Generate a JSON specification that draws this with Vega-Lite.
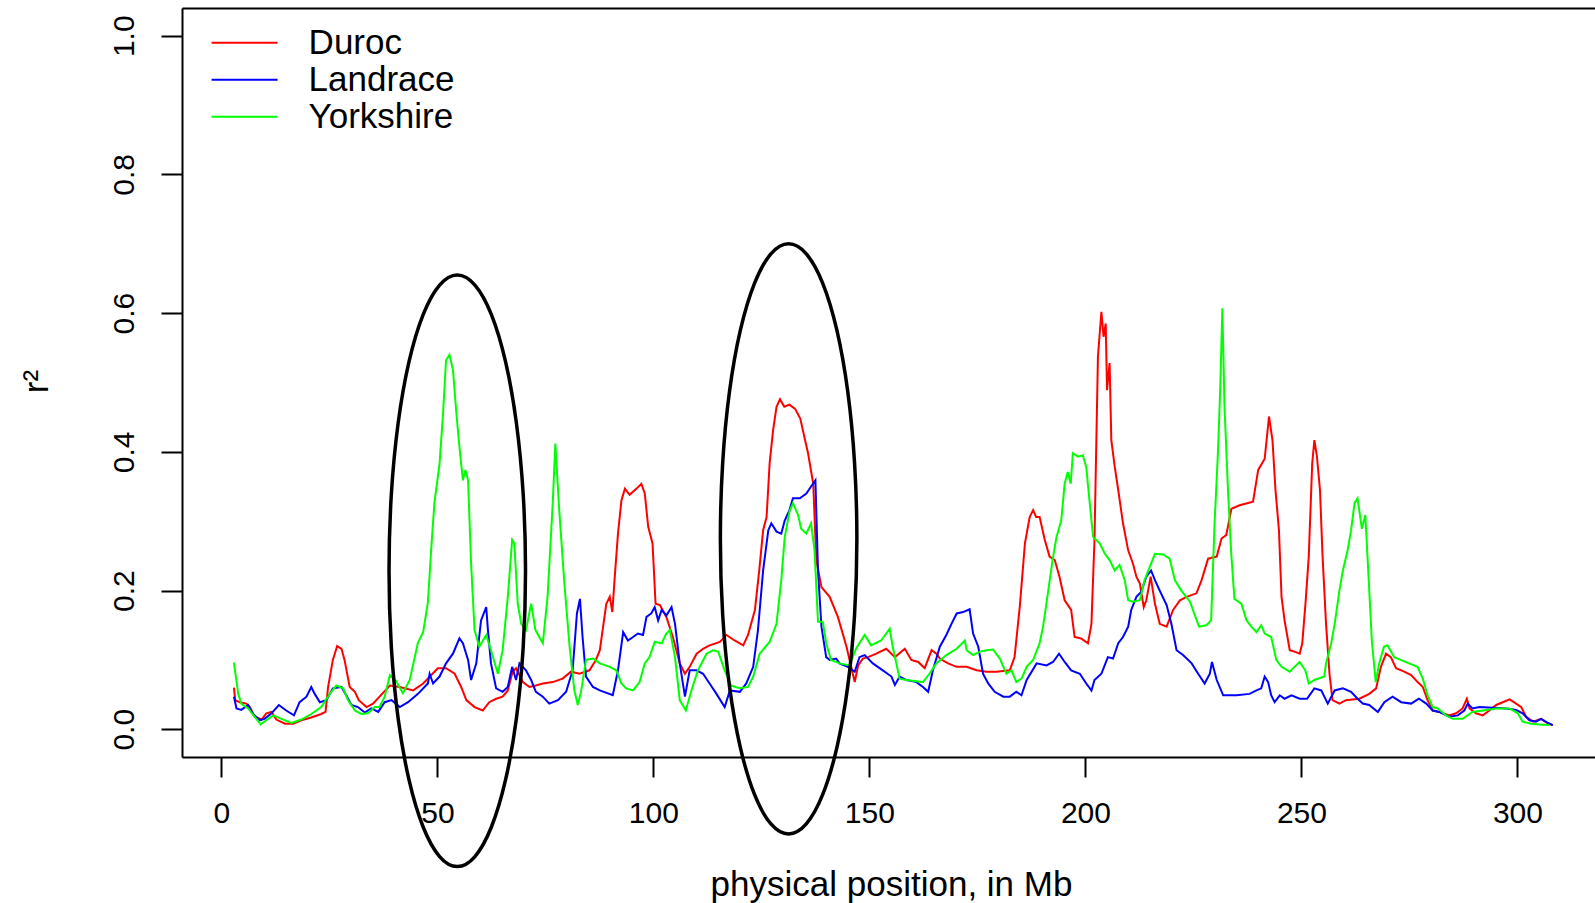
{
"$schema":"https://vega.github.io/schema/vega-lite/v6.json",
"width":1413,"height":749,
"autosize":{"type":"none"},
"padding":{"left":182,"top":8,"right":0,"bottom":146},
"background":"white",
"config":{"view":{"stroke":null},"font":"Liberation Sans","axis":{"grid":false,"labelColor":"black","titleColor":"black","tickColor":"black","domainColor":"black","labelFont":"Liberation Sans","titleFont":"Liberation Sans","titleFontWeight":"normal"}},
"datasets":{
"ld":[
{"breed":"Duroc","pos":2.9,"r2":0.060},{"breed":"Duroc","pos":3.2,"r2":0.042},{"breed":"Duroc","pos":4.2,"r2":0.039},{"breed":"Duroc","pos":5.8,"r2":0.037},{"breed":"Duroc","pos":6.6,"r2":0.032},{"breed":"Duroc","pos":7.7,"r2":0.018},{"breed":"Duroc","pos":9.3,"r2":0.014},{"breed":"Duroc","pos":10.4,"r2":0.023},{"breed":"Duroc","pos":11.6,"r2":0.025},{"breed":"Duroc","pos":12.7,"r2":0.014},{"breed":"Duroc","pos":14.7,"r2":0.008},{"breed":"Duroc","pos":16.6,"r2":0.008},{"breed":"Duroc","pos":18.5,"r2":0.013},{"breed":"Duroc","pos":20.8,"r2":0.017},{"breed":"Duroc","pos":23.1,"r2":0.022},{"breed":"Duroc","pos":24.1,"r2":0.025},{"breed":"Duroc","pos":24.7,"r2":0.061},{"breed":"Duroc","pos":25.8,"r2":0.100},{"breed":"Duroc","pos":26.8,"r2":0.120},{"breed":"Duroc","pos":27.8,"r2":0.116},{"breed":"Duroc","pos":28.5,"r2":0.100},{"breed":"Duroc","pos":29.7,"r2":0.061},{"breed":"Duroc","pos":30.9,"r2":0.054},{"breed":"Duroc","pos":31.8,"r2":0.042},{"breed":"Duroc","pos":33.6,"r2":0.032},{"breed":"Duroc","pos":35.1,"r2":0.037},{"breed":"Duroc","pos":36.6,"r2":0.047},{"breed":"Duroc","pos":39.0,"r2":0.063},{"breed":"Duroc","pos":41.3,"r2":0.061},{"breed":"Duroc","pos":44.4,"r2":0.056},{"breed":"Duroc","pos":46.7,"r2":0.066},{"breed":"Duroc","pos":50.1,"r2":0.088},{"breed":"Duroc","pos":52.0,"r2":0.088},{"breed":"Duroc","pos":54.0,"r2":0.080},{"breed":"Duroc","pos":55.5,"r2":0.061},{"breed":"Duroc","pos":56.7,"r2":0.042},{"breed":"Duroc","pos":58.6,"r2":0.032},{"breed":"Duroc","pos":60.5,"r2":0.027},{"breed":"Duroc","pos":62.0,"r2":0.039},{"breed":"Duroc","pos":63.6,"r2":0.044},{"breed":"Duroc","pos":65.1,"r2":0.047},{"breed":"Duroc","pos":66.3,"r2":0.056},{"breed":"Duroc","pos":67.4,"r2":0.083},{"breed":"Duroc","pos":68.2,"r2":0.088},{"breed":"Duroc","pos":69.8,"r2":0.068},{"breed":"Duroc","pos":71.3,"r2":0.061},{"breed":"Duroc","pos":72.8,"r2":0.063},{"breed":"Duroc","pos":74.4,"r2":0.066},{"breed":"Duroc","pos":76.7,"r2":0.068},{"breed":"Duroc","pos":79.0,"r2":0.073},{"breed":"Duroc","pos":80.9,"r2":0.083},{"breed":"Duroc","pos":82.9,"r2":0.080},{"breed":"Duroc","pos":85.2,"r2":0.085},{"breed":"Duroc","pos":86.7,"r2":0.100},{"breed":"Duroc","pos":87.6,"r2":0.114},{"breed":"Duroc","pos":89.1,"r2":0.181},{"breed":"Duroc","pos":89.9,"r2":0.191},{"breed":"Duroc","pos":90.5,"r2":0.169},{"breed":"Duroc","pos":91.0,"r2":0.215},{"breed":"Duroc","pos":91.8,"r2":0.282},{"breed":"Duroc","pos":92.6,"r2":0.330},{"breed":"Duroc","pos":93.4,"r2":0.347},{"breed":"Duroc","pos":94.5,"r2":0.338},{"breed":"Duroc","pos":96.1,"r2":0.347},{"breed":"Duroc","pos":97.2,"r2":0.354},{"breed":"Duroc","pos":98.0,"r2":0.340},{"breed":"Duroc","pos":98.8,"r2":0.292},{"breed":"Duroc","pos":99.8,"r2":0.268},{"breed":"Duroc","pos":100.5,"r2":0.181},{"breed":"Duroc","pos":101.5,"r2":0.179},{"breed":"Duroc","pos":103.0,"r2":0.162},{"breed":"Duroc","pos":104.5,"r2":0.133},{"breed":"Duroc","pos":106.1,"r2":0.095},{"breed":"Duroc","pos":107.3,"r2":0.080},{"breed":"Duroc","pos":108.4,"r2":0.090},{"breed":"Duroc","pos":110.0,"r2":0.109},{"breed":"Duroc","pos":111.5,"r2":0.116},{"breed":"Duroc","pos":113.0,"r2":0.121},{"breed":"Duroc","pos":115.4,"r2":0.126},{"breed":"Duroc","pos":116.9,"r2":0.136},{"breed":"Duroc","pos":118.8,"r2":0.128},{"breed":"Duroc","pos":120.8,"r2":0.121},{"breed":"Duroc","pos":121.9,"r2":0.136},{"breed":"Duroc","pos":123.5,"r2":0.172},{"breed":"Duroc","pos":124.5,"r2":0.229},{"breed":"Duroc","pos":125.4,"r2":0.287},{"breed":"Duroc","pos":126.2,"r2":0.306},{"breed":"Duroc","pos":126.9,"r2":0.383},{"breed":"Duroc","pos":127.7,"r2":0.431},{"breed":"Duroc","pos":128.5,"r2":0.465},{"breed":"Duroc","pos":129.3,"r2":0.476},{"breed":"Duroc","pos":130.3,"r2":0.465},{"breed":"Duroc","pos":131.5,"r2":0.468},{"breed":"Duroc","pos":132.8,"r2":0.462},{"breed":"Duroc","pos":134.0,"r2":0.448},{"breed":"Duroc","pos":134.6,"r2":0.431},{"breed":"Duroc","pos":135.8,"r2":0.398},{"breed":"Duroc","pos":137.0,"r2":0.354},{"breed":"Duroc","pos":137.7,"r2":0.244},{"breed":"Duroc","pos":138.9,"r2":0.205},{"breed":"Duroc","pos":140.8,"r2":0.191},{"breed":"Duroc","pos":142.7,"r2":0.162},{"breed":"Duroc","pos":144.7,"r2":0.119},{"breed":"Duroc","pos":146.6,"r2":0.068},{"breed":"Duroc","pos":147.4,"r2":0.092},{"breed":"Duroc","pos":148.5,"r2":0.102},{"breed":"Duroc","pos":149.7,"r2":0.104},{"breed":"Duroc","pos":151.6,"r2":0.109},{"breed":"Duroc","pos":153.9,"r2":0.116},{"breed":"Duroc","pos":155.9,"r2":0.104},{"breed":"Duroc","pos":158.2,"r2":0.116},{"breed":"Duroc","pos":159.7,"r2":0.100},{"breed":"Duroc","pos":161.3,"r2":0.097},{"breed":"Duroc","pos":162.8,"r2":0.088},{"breed":"Duroc","pos":164.4,"r2":0.114},{"breed":"Duroc","pos":165.5,"r2":0.109},{"breed":"Duroc","pos":166.3,"r2":0.102},{"breed":"Duroc","pos":168.2,"r2":0.095},{"breed":"Duroc","pos":170.2,"r2":0.090},{"breed":"Duroc","pos":172.5,"r2":0.090},{"breed":"Duroc","pos":174.8,"r2":0.085},{"breed":"Duroc","pos":177.1,"r2":0.083},{"breed":"Duroc","pos":179.4,"r2":0.083},{"breed":"Duroc","pos":182.5,"r2":0.085},{"breed":"Duroc","pos":183.6,"r2":0.104},{"breed":"Duroc","pos":184.8,"r2":0.176},{"breed":"Duroc","pos":186.0,"r2":0.268},{"breed":"Duroc","pos":187.1,"r2":0.306},{"breed":"Duroc","pos":187.9,"r2":0.316},{"breed":"Duroc","pos":188.6,"r2":0.306},{"breed":"Duroc","pos":189.4,"r2":0.306},{"breed":"Duroc","pos":190.6,"r2":0.273},{"breed":"Duroc","pos":191.7,"r2":0.249},{"breed":"Duroc","pos":192.9,"r2":0.244},{"breed":"Duroc","pos":194.0,"r2":0.220},{"breed":"Duroc","pos":195.2,"r2":0.186},{"breed":"Duroc","pos":196.7,"r2":0.172},{"breed":"Duroc","pos":197.5,"r2":0.133},{"breed":"Duroc","pos":199.0,"r2":0.131},{"breed":"Duroc","pos":200.6,"r2":0.124},{"breed":"Duroc","pos":201.4,"r2":0.152},{"breed":"Duroc","pos":202.1,"r2":0.273},{"breed":"Duroc","pos":202.9,"r2":0.537},{"breed":"Duroc","pos":203.7,"r2":0.602},{"breed":"Duroc","pos":204.2,"r2":0.566},{"breed":"Duroc","pos":204.7,"r2":0.585},{"breed":"Duroc","pos":205.0,"r2":0.489},{"breed":"Duroc","pos":205.6,"r2":0.528},{"breed":"Duroc","pos":206.0,"r2":0.417},{"breed":"Duroc","pos":206.8,"r2":0.378},{"breed":"Duroc","pos":207.6,"r2":0.345},{"breed":"Duroc","pos":208.7,"r2":0.297},{"breed":"Duroc","pos":209.9,"r2":0.258},{"breed":"Duroc","pos":211.0,"r2":0.239},{"breed":"Duroc","pos":211.8,"r2":0.220},{"breed":"Duroc","pos":212.6,"r2":0.210},{"breed":"Duroc","pos":213.5,"r2":0.176},{"breed":"Duroc","pos":214.1,"r2":0.186},{"breed":"Duroc","pos":215.1,"r2":0.220},{"breed":"Duroc","pos":216.1,"r2":0.181},{"breed":"Duroc","pos":217.2,"r2":0.152},{"breed":"Duroc","pos":218.8,"r2":0.148},{"breed":"Duroc","pos":220.3,"r2":0.172},{"breed":"Duroc","pos":221.9,"r2":0.186},{"breed":"Duroc","pos":223.4,"r2":0.191},{"breed":"Duroc","pos":225.7,"r2":0.196},{"breed":"Duroc","pos":226.9,"r2":0.215},{"breed":"Duroc","pos":228.4,"r2":0.246},{"breed":"Duroc","pos":230.4,"r2":0.249},{"breed":"Duroc","pos":231.5,"r2":0.275},{"breed":"Duroc","pos":232.6,"r2":0.280},{"breed":"Duroc","pos":233.8,"r2":0.318},{"breed":"Duroc","pos":235.7,"r2":0.323},{"breed":"Duroc","pos":238.8,"r2":0.328},{"breed":"Duroc","pos":240.0,"r2":0.374},{"breed":"Duroc","pos":241.5,"r2":0.390},{"breed":"Duroc","pos":242.5,"r2":0.451},{"breed":"Duroc","pos":243.3,"r2":0.417},{"breed":"Duroc","pos":244.0,"r2":0.345},{"breed":"Duroc","pos":244.8,"r2":0.287},{"breed":"Duroc","pos":245.4,"r2":0.191},{"breed":"Duroc","pos":246.1,"r2":0.157},{"breed":"Duroc","pos":247.3,"r2":0.114},{"breed":"Duroc","pos":248.4,"r2":0.112},{"breed":"Duroc","pos":249.6,"r2":0.109},{"breed":"Duroc","pos":250.2,"r2":0.124},{"breed":"Duroc","pos":251.0,"r2":0.186},{"breed":"Duroc","pos":251.7,"r2":0.249},{"breed":"Duroc","pos":252.5,"r2":0.383},{"breed":"Duroc","pos":253.0,"r2":0.417},{"breed":"Duroc","pos":253.6,"r2":0.393},{"breed":"Duroc","pos":254.3,"r2":0.345},{"breed":"Duroc","pos":254.9,"r2":0.249},{"breed":"Duroc","pos":255.7,"r2":0.152},{"breed":"Duroc","pos":256.5,"r2":0.080},{"breed":"Duroc","pos":257.2,"r2":0.042},{"breed":"Duroc","pos":258.8,"r2":0.037},{"breed":"Duroc","pos":260.3,"r2":0.042},{"breed":"Duroc","pos":263.4,"r2":0.044},{"breed":"Duroc","pos":265.7,"r2":0.051},{"breed":"Duroc","pos":267.3,"r2":0.059},{"breed":"Duroc","pos":268.4,"r2":0.090},{"breed":"Duroc","pos":269.6,"r2":0.109},{"breed":"Duroc","pos":270.7,"r2":0.104},{"breed":"Duroc","pos":271.9,"r2":0.088},{"breed":"Duroc","pos":273.8,"r2":0.083},{"breed":"Duroc","pos":275.4,"r2":0.078},{"breed":"Duroc","pos":276.9,"r2":0.068},{"breed":"Duroc","pos":278.1,"r2":0.061},{"breed":"Duroc","pos":279.2,"r2":0.042},{"breed":"Duroc","pos":280.4,"r2":0.027},{"breed":"Duroc","pos":281.9,"r2":0.025},{"breed":"Duroc","pos":284.2,"r2":0.020},{"breed":"Duroc","pos":285.8,"r2":0.023},{"breed":"Duroc","pos":287.3,"r2":0.030},{"breed":"Duroc","pos":288.3,"r2":0.044},{"breed":"Duroc","pos":288.9,"r2":0.030},{"breed":"Duroc","pos":290.4,"r2":0.023},{"breed":"Duroc","pos":292.0,"r2":0.020},{"breed":"Duroc","pos":293.5,"r2":0.027},{"breed":"Duroc","pos":295.1,"r2":0.035},{"breed":"Duroc","pos":296.6,"r2":0.039},{"breed":"Duroc","pos":298.2,"r2":0.043},{"breed":"Duroc","pos":299.7,"r2":0.037},{"breed":"Duroc","pos":300.9,"r2":0.032},{"breed":"Duroc","pos":302.0,"r2":0.018},{"breed":"Duroc","pos":303.6,"r2":0.011},{"breed":"Duroc","pos":305.5,"r2":0.015},{"breed":"Duroc","pos":307.1,"r2":0.008},{"breed":"Duroc","pos":308.2,"r2":0.006},
{"breed":"Landrace","pos":2.9,"r2":0.047},{"breed":"Landrace","pos":3.5,"r2":0.030},{"breed":"Landrace","pos":4.6,"r2":0.028},{"breed":"Landrace","pos":6.2,"r2":0.035},{"breed":"Landrace","pos":7.3,"r2":0.022},{"breed":"Landrace","pos":8.9,"r2":0.013},{"breed":"Landrace","pos":10.0,"r2":0.015},{"breed":"Landrace","pos":11.6,"r2":0.023},{"breed":"Landrace","pos":13.3,"r2":0.035},{"breed":"Landrace","pos":15.0,"r2":0.027},{"breed":"Landrace","pos":16.8,"r2":0.020},{"breed":"Landrace","pos":18.1,"r2":0.039},{"breed":"Landrace","pos":19.7,"r2":0.047},{"breed":"Landrace","pos":20.8,"r2":0.061},{"breed":"Landrace","pos":21.6,"r2":0.051},{"breed":"Landrace","pos":22.8,"r2":0.039},{"breed":"Landrace","pos":24.3,"r2":0.042},{"breed":"Landrace","pos":25.8,"r2":0.059},{"breed":"Landrace","pos":27.8,"r2":0.061},{"breed":"Landrace","pos":28.9,"r2":0.049},{"breed":"Landrace","pos":30.1,"r2":0.035},{"breed":"Landrace","pos":31.6,"r2":0.032},{"breed":"Landrace","pos":33.2,"r2":0.024},{"breed":"Landrace","pos":34.7,"r2":0.030},{"breed":"Landrace","pos":36.3,"r2":0.025},{"breed":"Landrace","pos":37.8,"r2":0.039},{"breed":"Landrace","pos":39.4,"r2":0.042},{"breed":"Landrace","pos":41.3,"r2":0.032},{"breed":"Landrace","pos":43.2,"r2":0.039},{"breed":"Landrace","pos":45.5,"r2":0.051},{"breed":"Landrace","pos":47.8,"r2":0.066},{"breed":"Landrace","pos":48.2,"r2":0.080},{"breed":"Landrace","pos":49.0,"r2":0.066},{"breed":"Landrace","pos":50.5,"r2":0.076},{"breed":"Landrace","pos":52.0,"r2":0.095},{"breed":"Landrace","pos":53.6,"r2":0.109},{"breed":"Landrace","pos":55.1,"r2":0.131},{"breed":"Landrace","pos":55.9,"r2":0.124},{"breed":"Landrace","pos":57.1,"r2":0.100},{"breed":"Landrace","pos":57.8,"r2":0.071},{"breed":"Landrace","pos":59.0,"r2":0.095},{"breed":"Landrace","pos":60.1,"r2":0.157},{"breed":"Landrace","pos":61.3,"r2":0.176},{"breed":"Landrace","pos":61.7,"r2":0.143},{"breed":"Landrace","pos":62.4,"r2":0.095},{"breed":"Landrace","pos":63.6,"r2":0.059},{"breed":"Landrace","pos":65.1,"r2":0.054},{"breed":"Landrace","pos":66.3,"r2":0.061},{"breed":"Landrace","pos":67.3,"r2":0.090},{"breed":"Landrace","pos":68.2,"r2":0.071},{"breed":"Landrace","pos":69.0,"r2":0.095},{"breed":"Landrace","pos":70.5,"r2":0.085},{"breed":"Landrace","pos":71.7,"r2":0.071},{"breed":"Landrace","pos":72.8,"r2":0.054},{"breed":"Landrace","pos":74.4,"r2":0.047},{"breed":"Landrace","pos":75.9,"r2":0.037},{"breed":"Landrace","pos":77.9,"r2":0.042},{"breed":"Landrace","pos":79.8,"r2":0.054},{"breed":"Landrace","pos":81.3,"r2":0.085},{"breed":"Landrace","pos":82.3,"r2":0.167},{"breed":"Landrace","pos":83.0,"r2":0.188},{"breed":"Landrace","pos":83.6,"r2":0.133},{"breed":"Landrace","pos":84.4,"r2":0.076},{"breed":"Landrace","pos":86.0,"r2":0.061},{"breed":"Landrace","pos":87.6,"r2":0.056},{"breed":"Landrace","pos":90.6,"r2":0.049},{"breed":"Landrace","pos":91.8,"r2":0.085},{"breed":"Landrace","pos":93.0,"r2":0.140},{"breed":"Landrace","pos":94.1,"r2":0.128},{"breed":"Landrace","pos":95.3,"r2":0.133},{"breed":"Landrace","pos":96.4,"r2":0.138},{"breed":"Landrace","pos":97.6,"r2":0.136},{"breed":"Landrace","pos":98.4,"r2":0.162},{"breed":"Landrace","pos":99.5,"r2":0.167},{"breed":"Landrace","pos":100.3,"r2":0.176},{"breed":"Landrace","pos":101.1,"r2":0.157},{"breed":"Landrace","pos":101.9,"r2":0.172},{"breed":"Landrace","pos":103.0,"r2":0.164},{"breed":"Landrace","pos":104.2,"r2":0.176},{"breed":"Landrace","pos":105.0,"r2":0.152},{"breed":"Landrace","pos":106.1,"r2":0.095},{"breed":"Landrace","pos":107.3,"r2":0.047},{"breed":"Landrace","pos":108.4,"r2":0.085},{"breed":"Landrace","pos":110.0,"r2":0.085},{"breed":"Landrace","pos":111.5,"r2":0.080},{"breed":"Landrace","pos":113.0,"r2":0.066},{"breed":"Landrace","pos":114.6,"r2":0.051},{"breed":"Landrace","pos":116.5,"r2":0.032},{"breed":"Landrace","pos":117.7,"r2":0.056},{"breed":"Landrace","pos":120.0,"r2":0.054},{"breed":"Landrace","pos":121.5,"r2":0.066},{"breed":"Landrace","pos":123.1,"r2":0.090},{"breed":"Landrace","pos":124.2,"r2":0.143},{"breed":"Landrace","pos":125.4,"r2":0.229},{"breed":"Landrace","pos":126.6,"r2":0.287},{"breed":"Landrace","pos":127.3,"r2":0.297},{"breed":"Landrace","pos":128.5,"r2":0.285},{"breed":"Landrace","pos":129.6,"r2":0.282},{"breed":"Landrace","pos":130.4,"r2":0.301},{"breed":"Landrace","pos":131.5,"r2":0.316},{"breed":"Landrace","pos":132.3,"r2":0.333},{"breed":"Landrace","pos":133.9,"r2":0.333},{"breed":"Landrace","pos":135.4,"r2":0.340},{"breed":"Landrace","pos":136.5,"r2":0.350},{"breed":"Landrace","pos":137.5,"r2":0.359},{"breed":"Landrace","pos":138.1,"r2":0.229},{"breed":"Landrace","pos":138.9,"r2":0.148},{"breed":"Landrace","pos":140.0,"r2":0.104},{"breed":"Landrace","pos":140.8,"r2":0.100},{"breed":"Landrace","pos":142.3,"r2":0.102},{"breed":"Landrace","pos":143.1,"r2":0.095},{"breed":"Landrace","pos":145.0,"r2":0.090},{"breed":"Landrace","pos":146.6,"r2":0.083},{"breed":"Landrace","pos":147.7,"r2":0.104},{"breed":"Landrace","pos":148.9,"r2":0.107},{"breed":"Landrace","pos":150.8,"r2":0.095},{"breed":"Landrace","pos":153.1,"r2":0.085},{"breed":"Landrace","pos":155.1,"r2":0.076},{"breed":"Landrace","pos":155.9,"r2":0.064},{"breed":"Landrace","pos":157.0,"r2":0.076},{"breed":"Landrace","pos":158.6,"r2":0.071},{"breed":"Landrace","pos":160.9,"r2":0.068},{"breed":"Landrace","pos":162.4,"r2":0.061},{"breed":"Landrace","pos":163.6,"r2":0.054},{"breed":"Landrace","pos":164.7,"r2":0.085},{"breed":"Landrace","pos":166.3,"r2":0.119},{"breed":"Landrace","pos":167.8,"r2":0.136},{"breed":"Landrace","pos":169.0,"r2":0.152},{"breed":"Landrace","pos":170.2,"r2":0.167},{"breed":"Landrace","pos":171.7,"r2":0.169},{"breed":"Landrace","pos":173.2,"r2":0.173},{"breed":"Landrace","pos":174.0,"r2":0.138},{"breed":"Landrace","pos":175.2,"r2":0.119},{"breed":"Landrace","pos":176.3,"r2":0.080},{"breed":"Landrace","pos":177.5,"r2":0.066},{"breed":"Landrace","pos":179.0,"r2":0.054},{"breed":"Landrace","pos":181.0,"r2":0.047},{"breed":"Landrace","pos":182.5,"r2":0.047},{"breed":"Landrace","pos":184.0,"r2":0.054},{"breed":"Landrace","pos":185.2,"r2":0.049},{"breed":"Landrace","pos":186.4,"r2":0.071},{"breed":"Landrace","pos":188.7,"r2":0.095},{"breed":"Landrace","pos":191.0,"r2":0.092},{"breed":"Landrace","pos":192.5,"r2":0.097},{"breed":"Landrace","pos":193.9,"r2":0.109},{"breed":"Landrace","pos":195.2,"r2":0.097},{"breed":"Landrace","pos":196.7,"r2":0.085},{"breed":"Landrace","pos":198.7,"r2":0.080},{"breed":"Landrace","pos":200.2,"r2":0.066},{"breed":"Landrace","pos":201.4,"r2":0.056},{"breed":"Landrace","pos":202.1,"r2":0.071},{"breed":"Landrace","pos":203.7,"r2":0.080},{"breed":"Landrace","pos":205.2,"r2":0.104},{"breed":"Landrace","pos":206.4,"r2":0.102},{"breed":"Landrace","pos":207.6,"r2":0.124},{"breed":"Landrace","pos":208.7,"r2":0.133},{"breed":"Landrace","pos":209.9,"r2":0.148},{"breed":"Landrace","pos":210.6,"r2":0.172},{"breed":"Landrace","pos":211.8,"r2":0.191},{"breed":"Landrace","pos":212.9,"r2":0.198},{"breed":"Landrace","pos":214.1,"r2":0.220},{"breed":"Landrace","pos":215.2,"r2":0.229},{"breed":"Landrace","pos":216.1,"r2":0.215},{"breed":"Landrace","pos":217.2,"r2":0.200},{"breed":"Landrace","pos":218.8,"r2":0.179},{"breed":"Landrace","pos":219.9,"r2":0.152},{"breed":"Landrace","pos":221.1,"r2":0.114},{"breed":"Landrace","pos":222.6,"r2":0.107},{"breed":"Landrace","pos":224.6,"r2":0.095},{"breed":"Landrace","pos":226.1,"r2":0.080},{"breed":"Landrace","pos":227.6,"r2":0.066},{"breed":"Landrace","pos":228.8,"r2":0.080},{"breed":"Landrace","pos":229.3,"r2":0.097},{"breed":"Landrace","pos":230.4,"r2":0.071},{"breed":"Landrace","pos":231.9,"r2":0.049},{"breed":"Landrace","pos":235.0,"r2":0.049},{"breed":"Landrace","pos":238.0,"r2":0.051},{"breed":"Landrace","pos":239.6,"r2":0.056},{"breed":"Landrace","pos":240.7,"r2":0.059},{"breed":"Landrace","pos":241.5,"r2":0.076},{"breed":"Landrace","pos":242.3,"r2":0.068},{"breed":"Landrace","pos":243.0,"r2":0.049},{"breed":"Landrace","pos":243.8,"r2":0.039},{"breed":"Landrace","pos":245.0,"r2":0.049},{"breed":"Landrace","pos":246.1,"r2":0.044},{"breed":"Landrace","pos":247.7,"r2":0.049},{"breed":"Landrace","pos":249.6,"r2":0.044},{"breed":"Landrace","pos":251.3,"r2":0.044},{"breed":"Landrace","pos":253.0,"r2":0.059},{"breed":"Landrace","pos":254.6,"r2":0.056},{"breed":"Landrace","pos":256.1,"r2":0.037},{"breed":"Landrace","pos":257.7,"r2":0.056},{"breed":"Landrace","pos":259.6,"r2":0.059},{"breed":"Landrace","pos":261.5,"r2":0.054},{"breed":"Landrace","pos":263.0,"r2":0.044},{"breed":"Landrace","pos":264.2,"r2":0.037},{"breed":"Landrace","pos":265.7,"r2":0.035},{"breed":"Landrace","pos":267.7,"r2":0.025},{"breed":"Landrace","pos":269.2,"r2":0.039},{"breed":"Landrace","pos":271.1,"r2":0.047},{"breed":"Landrace","pos":273.1,"r2":0.039},{"breed":"Landrace","pos":275.4,"r2":0.037},{"breed":"Landrace","pos":277.2,"r2":0.044},{"breed":"Landrace","pos":278.9,"r2":0.037},{"breed":"Landrace","pos":280.4,"r2":0.027},{"breed":"Landrace","pos":281.9,"r2":0.025},{"breed":"Landrace","pos":284.2,"r2":0.018},{"breed":"Landrace","pos":286.2,"r2":0.020},{"breed":"Landrace","pos":287.7,"r2":0.027},{"breed":"Landrace","pos":288.5,"r2":0.037},{"breed":"Landrace","pos":289.6,"r2":0.030},{"breed":"Landrace","pos":291.2,"r2":0.032},{"breed":"Landrace","pos":294.3,"r2":0.031},{"breed":"Landrace","pos":297.4,"r2":0.030},{"breed":"Landrace","pos":299.7,"r2":0.028},{"breed":"Landrace","pos":301.2,"r2":0.023},{"breed":"Landrace","pos":302.8,"r2":0.013},{"breed":"Landrace","pos":304.3,"r2":0.011},{"breed":"Landrace","pos":305.5,"r2":0.015},{"breed":"Landrace","pos":307.1,"r2":0.009},{"breed":"Landrace","pos":308.2,"r2":0.006},
{"breed":"Yorkshire","pos":2.9,"r2":0.096},{"breed":"Yorkshire","pos":3.9,"r2":0.051},{"breed":"Yorkshire","pos":4.6,"r2":0.037},{"breed":"Yorkshire","pos":6.2,"r2":0.030},{"breed":"Yorkshire","pos":7.7,"r2":0.018},{"breed":"Yorkshire","pos":9.1,"r2":0.007},{"breed":"Yorkshire","pos":10.4,"r2":0.013},{"breed":"Yorkshire","pos":12.0,"r2":0.020},{"breed":"Yorkshire","pos":13.9,"r2":0.015},{"breed":"Yorkshire","pos":16.2,"r2":0.009},{"breed":"Yorkshire","pos":18.5,"r2":0.014},{"breed":"Yorkshire","pos":20.8,"r2":0.022},{"breed":"Yorkshire","pos":23.1,"r2":0.032},{"breed":"Yorkshire","pos":25.1,"r2":0.051},{"breed":"Yorkshire","pos":26.6,"r2":0.063},{"breed":"Yorkshire","pos":28.2,"r2":0.059},{"breed":"Yorkshire","pos":29.3,"r2":0.042},{"breed":"Yorkshire","pos":30.9,"r2":0.027},{"breed":"Yorkshire","pos":32.4,"r2":0.022},{"breed":"Yorkshire","pos":33.9,"r2":0.023},{"breed":"Yorkshire","pos":35.5,"r2":0.032},{"breed":"Yorkshire","pos":36.6,"r2":0.032},{"breed":"Yorkshire","pos":37.8,"r2":0.047},{"breed":"Yorkshire","pos":39.0,"r2":0.078},{"breed":"Yorkshire","pos":40.3,"r2":0.071},{"breed":"Yorkshire","pos":42.0,"r2":0.052},{"breed":"Yorkshire","pos":43.6,"r2":0.071},{"breed":"Yorkshire","pos":45.5,"r2":0.125},{"breed":"Yorkshire","pos":46.7,"r2":0.140},{"breed":"Yorkshire","pos":47.8,"r2":0.183},{"breed":"Yorkshire","pos":48.6,"r2":0.263},{"breed":"Yorkshire","pos":49.3,"r2":0.326},{"breed":"Yorkshire","pos":50.5,"r2":0.383},{"breed":"Yorkshire","pos":51.3,"r2":0.455},{"breed":"Yorkshire","pos":52.0,"r2":0.532},{"breed":"Yorkshire","pos":52.8,"r2":0.540},{"breed":"Yorkshire","pos":53.6,"r2":0.518},{"breed":"Yorkshire","pos":54.4,"r2":0.455},{"breed":"Yorkshire","pos":55.1,"r2":0.407},{"breed":"Yorkshire","pos":55.9,"r2":0.359},{"breed":"Yorkshire","pos":56.5,"r2":0.374},{"breed":"Yorkshire","pos":57.1,"r2":0.359},{"breed":"Yorkshire","pos":57.8,"r2":0.239},{"breed":"Yorkshire","pos":58.6,"r2":0.143},{"breed":"Yorkshire","pos":59.7,"r2":0.119},{"breed":"Yorkshire","pos":61.3,"r2":0.136},{"breed":"Yorkshire","pos":62.4,"r2":0.114},{"breed":"Yorkshire","pos":64.0,"r2":0.080},{"breed":"Yorkshire","pos":65.1,"r2":0.114},{"breed":"Yorkshire","pos":66.3,"r2":0.191},{"breed":"Yorkshire","pos":67.3,"r2":0.273},{"breed":"Yorkshire","pos":67.8,"r2":0.268},{"breed":"Yorkshire","pos":68.6,"r2":0.181},{"breed":"Yorkshire","pos":69.4,"r2":0.152},{"breed":"Yorkshire","pos":70.5,"r2":0.143},{"breed":"Yorkshire","pos":71.7,"r2":0.181},{"breed":"Yorkshire","pos":72.7,"r2":0.143},{"breed":"Yorkshire","pos":74.4,"r2":0.124},{"breed":"Yorkshire","pos":75.5,"r2":0.191},{"breed":"Yorkshire","pos":76.7,"r2":0.326},{"breed":"Yorkshire","pos":77.3,"r2":0.412},{"breed":"Yorkshire","pos":78.2,"r2":0.316},{"breed":"Yorkshire","pos":79.4,"r2":0.210},{"breed":"Yorkshire","pos":80.6,"r2":0.119},{"breed":"Yorkshire","pos":81.7,"r2":0.056},{"breed":"Yorkshire","pos":82.5,"r2":0.035},{"breed":"Yorkshire","pos":83.3,"r2":0.056},{"breed":"Yorkshire","pos":84.4,"r2":0.100},{"breed":"Yorkshire","pos":86.0,"r2":0.102},{"breed":"Yorkshire","pos":87.6,"r2":0.095},{"breed":"Yorkshire","pos":89.9,"r2":0.090},{"breed":"Yorkshire","pos":91.4,"r2":0.085},{"breed":"Yorkshire","pos":92.6,"r2":0.066},{"breed":"Yorkshire","pos":93.7,"r2":0.059},{"breed":"Yorkshire","pos":95.3,"r2":0.056},{"breed":"Yorkshire","pos":96.8,"r2":0.068},{"breed":"Yorkshire","pos":98.0,"r2":0.095},{"breed":"Yorkshire","pos":99.1,"r2":0.104},{"breed":"Yorkshire","pos":100.3,"r2":0.126},{"breed":"Yorkshire","pos":101.9,"r2":0.124},{"breed":"Yorkshire","pos":103.0,"r2":0.138},{"breed":"Yorkshire","pos":103.8,"r2":0.143},{"breed":"Yorkshire","pos":105.0,"r2":0.104},{"breed":"Yorkshire","pos":106.1,"r2":0.042},{"breed":"Yorkshire","pos":107.5,"r2":0.027},{"breed":"Yorkshire","pos":108.8,"r2":0.056},{"breed":"Yorkshire","pos":110.3,"r2":0.085},{"breed":"Yorkshire","pos":112.3,"r2":0.109},{"breed":"Yorkshire","pos":113.8,"r2":0.114},{"breed":"Yorkshire","pos":115.0,"r2":0.112},{"breed":"Yorkshire","pos":116.5,"r2":0.085},{"breed":"Yorkshire","pos":118.0,"r2":0.063},{"breed":"Yorkshire","pos":120.0,"r2":0.059},{"breed":"Yorkshire","pos":121.9,"r2":0.061},{"breed":"Yorkshire","pos":123.1,"r2":0.076},{"breed":"Yorkshire","pos":124.6,"r2":0.109},{"breed":"Yorkshire","pos":126.9,"r2":0.126},{"breed":"Yorkshire","pos":128.5,"r2":0.152},{"breed":"Yorkshire","pos":129.6,"r2":0.215},{"breed":"Yorkshire","pos":130.4,"r2":0.277},{"breed":"Yorkshire","pos":131.5,"r2":0.314},{"breed":"Yorkshire","pos":132.3,"r2":0.326},{"breed":"Yorkshire","pos":133.5,"r2":0.309},{"breed":"Yorkshire","pos":134.2,"r2":0.289},{"breed":"Yorkshire","pos":135.4,"r2":0.282},{"breed":"Yorkshire","pos":136.5,"r2":0.297},{"breed":"Yorkshire","pos":137.3,"r2":0.258},{"breed":"Yorkshire","pos":138.1,"r2":0.155},{"breed":"Yorkshire","pos":139.2,"r2":0.155},{"breed":"Yorkshire","pos":140.0,"r2":0.124},{"breed":"Yorkshire","pos":141.1,"r2":0.100},{"breed":"Yorkshire","pos":143.1,"r2":0.095},{"breed":"Yorkshire","pos":145.4,"r2":0.092},{"breed":"Yorkshire","pos":146.9,"r2":0.116},{"breed":"Yorkshire","pos":148.9,"r2":0.136},{"breed":"Yorkshire","pos":150.4,"r2":0.121},{"breed":"Yorkshire","pos":152.7,"r2":0.128},{"breed":"Yorkshire","pos":154.7,"r2":0.145},{"breed":"Yorkshire","pos":155.4,"r2":0.119},{"breed":"Yorkshire","pos":157.0,"r2":0.073},{"breed":"Yorkshire","pos":158.6,"r2":0.071},{"breed":"Yorkshire","pos":162.4,"r2":0.068},{"breed":"Yorkshire","pos":163.9,"r2":0.080},{"breed":"Yorkshire","pos":165.5,"r2":0.095},{"breed":"Yorkshire","pos":167.8,"r2":0.107},{"breed":"Yorkshire","pos":170.2,"r2":0.116},{"breed":"Yorkshire","pos":172.1,"r2":0.128},{"breed":"Yorkshire","pos":172.5,"r2":0.114},{"breed":"Yorkshire","pos":174.0,"r2":0.107},{"breed":"Yorkshire","pos":175.6,"r2":0.112},{"breed":"Yorkshire","pos":177.1,"r2":0.114},{"breed":"Yorkshire","pos":178.6,"r2":0.115},{"breed":"Yorkshire","pos":180.2,"r2":0.102},{"breed":"Yorkshire","pos":181.7,"r2":0.080},{"breed":"Yorkshire","pos":182.9,"r2":0.085},{"breed":"Yorkshire","pos":184.0,"r2":0.068},{"breed":"Yorkshire","pos":185.2,"r2":0.073},{"breed":"Yorkshire","pos":186.4,"r2":0.090},{"breed":"Yorkshire","pos":187.9,"r2":0.100},{"breed":"Yorkshire","pos":189.4,"r2":0.124},{"breed":"Yorkshire","pos":190.2,"r2":0.148},{"breed":"Yorkshire","pos":191.4,"r2":0.200},{"breed":"Yorkshire","pos":192.4,"r2":0.244},{"breed":"Yorkshire","pos":193.3,"r2":0.277},{"breed":"Yorkshire","pos":194.4,"r2":0.301},{"breed":"Yorkshire","pos":195.2,"r2":0.354},{"breed":"Yorkshire","pos":195.9,"r2":0.371},{"breed":"Yorkshire","pos":196.6,"r2":0.354},{"breed":"Yorkshire","pos":197.1,"r2":0.398},{"breed":"Yorkshire","pos":198.3,"r2":0.393},{"breed":"Yorkshire","pos":199.4,"r2":0.395},{"breed":"Yorkshire","pos":200.2,"r2":0.378},{"breed":"Yorkshire","pos":201.0,"r2":0.326},{"breed":"Yorkshire","pos":201.8,"r2":0.277},{"breed":"Yorkshire","pos":203.3,"r2":0.268},{"breed":"Yorkshire","pos":204.5,"r2":0.253},{"breed":"Yorkshire","pos":205.6,"r2":0.244},{"breed":"Yorkshire","pos":206.8,"r2":0.229},{"breed":"Yorkshire","pos":207.9,"r2":0.237},{"breed":"Yorkshire","pos":209.1,"r2":0.215},{"breed":"Yorkshire","pos":209.9,"r2":0.186},{"breed":"Yorkshire","pos":211.0,"r2":0.184},{"breed":"Yorkshire","pos":212.6,"r2":0.186},{"breed":"Yorkshire","pos":213.7,"r2":0.215},{"breed":"Yorkshire","pos":214.9,"r2":0.234},{"breed":"Yorkshire","pos":216.1,"r2":0.253},{"breed":"Yorkshire","pos":218.0,"r2":0.252},{"breed":"Yorkshire","pos":219.5,"r2":0.246},{"breed":"Yorkshire","pos":220.7,"r2":0.215},{"breed":"Yorkshire","pos":222.2,"r2":0.200},{"breed":"Yorkshire","pos":224.2,"r2":0.184},{"breed":"Yorkshire","pos":224.9,"r2":0.172},{"breed":"Yorkshire","pos":226.3,"r2":0.148},{"breed":"Yorkshire","pos":228.0,"r2":0.150},{"breed":"Yorkshire","pos":229.1,"r2":0.157},{"breed":"Yorkshire","pos":229.9,"r2":0.297},{"breed":"Yorkshire","pos":230.7,"r2":0.402},{"breed":"Yorkshire","pos":231.2,"r2":0.489},{"breed":"Yorkshire","pos":231.7,"r2":0.607},{"breed":"Yorkshire","pos":232.2,"r2":0.465},{"breed":"Yorkshire","pos":233.0,"r2":0.345},{"breed":"Yorkshire","pos":233.8,"r2":0.249},{"breed":"Yorkshire","pos":234.5,"r2":0.188},{"breed":"Yorkshire","pos":236.1,"r2":0.181},{"breed":"Yorkshire","pos":237.3,"r2":0.157},{"breed":"Yorkshire","pos":238.4,"r2":0.148},{"breed":"Yorkshire","pos":239.6,"r2":0.140},{"breed":"Yorkshire","pos":240.7,"r2":0.150},{"breed":"Yorkshire","pos":241.5,"r2":0.138},{"breed":"Yorkshire","pos":243.0,"r2":0.133},{"breed":"Yorkshire","pos":244.2,"r2":0.100},{"breed":"Yorkshire","pos":245.4,"r2":0.090},{"breed":"Yorkshire","pos":247.3,"r2":0.083},{"breed":"Yorkshire","pos":248.4,"r2":0.090},{"breed":"Yorkshire","pos":249.6,"r2":0.097},{"breed":"Yorkshire","pos":250.9,"r2":0.085},{"breed":"Yorkshire","pos":251.7,"r2":0.066},{"breed":"Yorkshire","pos":253.0,"r2":0.071},{"breed":"Yorkshire","pos":255.3,"r2":0.076},{"breed":"Yorkshire","pos":255.7,"r2":0.095},{"breed":"Yorkshire","pos":256.9,"r2":0.124},{"breed":"Yorkshire","pos":257.7,"r2":0.152},{"breed":"Yorkshire","pos":258.8,"r2":0.200},{"breed":"Yorkshire","pos":259.6,"r2":0.229},{"breed":"Yorkshire","pos":260.7,"r2":0.258},{"breed":"Yorkshire","pos":261.5,"r2":0.287},{"breed":"Yorkshire","pos":262.3,"r2":0.326},{"breed":"Yorkshire","pos":263.0,"r2":0.333},{"breed":"Yorkshire","pos":264.0,"r2":0.289},{"breed":"Yorkshire","pos":264.8,"r2":0.309},{"breed":"Yorkshire","pos":265.5,"r2":0.225},{"breed":"Yorkshire","pos":266.3,"r2":0.128},{"breed":"Yorkshire","pos":267.2,"r2":0.068},{"breed":"Yorkshire","pos":268.0,"r2":0.095},{"breed":"Yorkshire","pos":269.1,"r2":0.119},{"breed":"Yorkshire","pos":269.9,"r2":0.121},{"breed":"Yorkshire","pos":271.5,"r2":0.104},{"breed":"Yorkshire","pos":273.0,"r2":0.100},{"breed":"Yorkshire","pos":274.9,"r2":0.095},{"breed":"Yorkshire","pos":276.9,"r2":0.090},{"breed":"Yorkshire","pos":278.1,"r2":0.073},{"breed":"Yorkshire","pos":279.2,"r2":0.049},{"breed":"Yorkshire","pos":280.4,"r2":0.032},{"breed":"Yorkshire","pos":281.6,"r2":0.030},{"breed":"Yorkshire","pos":283.5,"r2":0.020},{"breed":"Yorkshire","pos":285.0,"r2":0.015},{"breed":"Yorkshire","pos":287.3,"r2":0.015},{"breed":"Yorkshire","pos":289.6,"r2":0.025},{"breed":"Yorkshire","pos":292.0,"r2":0.027},{"breed":"Yorkshire","pos":295.1,"r2":0.030},{"breed":"Yorkshire","pos":298.2,"r2":0.030},{"breed":"Yorkshire","pos":300.1,"r2":0.023},{"breed":"Yorkshire","pos":301.2,"r2":0.011},{"breed":"Yorkshire","pos":303.2,"r2":0.008},{"breed":"Yorkshire","pos":305.1,"r2":0.007},{"breed":"Yorkshire","pos":307.4,"r2":0.006}
],
"ell":[
{"id":1,"i":0,"pos":70.4,"r2":0.2285},{"id":1,"i":1,"pos":69.86,"r2":0.3389},{"id":1,"i":2,"pos":68.28,"r2":0.4418},{"id":1,"i":3,"pos":65.77,"r2":0.5301},{"id":1,"i":4,"pos":62.5,"r2":0.5979},{"id":1,"i":5,"pos":58.69,"r2":0.6405},{"id":1,"i":6,"pos":54.6,"r2":0.655},{"id":1,"i":7,"pos":50.51,"r2":0.6405},{"id":1,"i":8,"pos":46.7,"r2":0.5979},{"id":1,"i":9,"pos":43.43,"r2":0.5301},{"id":1,"i":10,"pos":40.92,"r2":0.4418},{"id":1,"i":11,"pos":39.34,"r2":0.3389},{"id":1,"i":12,"pos":38.8,"r2":0.2285},{"id":1,"i":13,"pos":39.34,"r2":0.1181},{"id":1,"i":14,"pos":40.92,"r2":0.0152},{"id":1,"i":15,"pos":43.43,"r2":-0.0731},{"id":1,"i":16,"pos":46.7,"r2":-0.1409},{"id":1,"i":17,"pos":50.51,"r2":-0.1835},{"id":1,"i":18,"pos":54.6,"r2":-0.198},{"id":1,"i":19,"pos":58.69,"r2":-0.1835},{"id":1,"i":20,"pos":62.5,"r2":-0.1409},{"id":1,"i":21,"pos":65.77,"r2":-0.0731},{"id":1,"i":22,"pos":68.28,"r2":0.0152},{"id":1,"i":23,"pos":69.86,"r2":0.1181},
{"id":2,"i":0,"pos":147.1,"r2":0.2745},{"id":2,"i":1,"pos":146.56,"r2":0.3846},{"id":2,"i":2,"pos":144.98,"r2":0.4873},{"id":2,"i":3,"pos":142.47,"r2":0.5754},{"id":2,"i":4,"pos":139.2,"r2":0.643},{"id":2,"i":5,"pos":135.39,"r2":0.6855},{"id":2,"i":6,"pos":131.3,"r2":0.7},{"id":2,"i":7,"pos":127.21,"r2":0.6855},{"id":2,"i":8,"pos":123.4,"r2":0.643},{"id":2,"i":9,"pos":120.13,"r2":0.5754},{"id":2,"i":10,"pos":117.62,"r2":0.4873},{"id":2,"i":11,"pos":116.04,"r2":0.3846},{"id":2,"i":12,"pos":115.5,"r2":0.2745},{"id":2,"i":13,"pos":116.04,"r2":0.1644},{"id":2,"i":14,"pos":117.62,"r2":0.0617},{"id":2,"i":15,"pos":120.13,"r2":-0.0264},{"id":2,"i":16,"pos":123.4,"r2":-0.094},{"id":2,"i":17,"pos":127.21,"r2":-0.1365},{"id":2,"i":18,"pos":131.3,"r2":-0.151},{"id":2,"i":19,"pos":135.39,"r2":-0.1365},{"id":2,"i":20,"pos":139.2,"r2":-0.094},{"id":2,"i":21,"pos":142.47,"r2":-0.0264},{"id":2,"i":22,"pos":144.98,"r2":0.0617},{"id":2,"i":23,"pos":146.56,"r2":0.1644}
]
},
"layer":[
{
"data":{"name":"ld"},
"mark":{"type":"line","strokeWidth":2,"clip":false},
"encoding":{
"x":{"field":"pos","type":"quantitative","scale":{"domain":[-9.12,317.96],"nice":false,"zero":false},
"axis":{"orient":"bottom","values":[0,50,100,150,200,250,300],"tickSize":20,"tickWidth":2,"domainWidth":2,"labelFontSize":30,"labelPadding":21,"labelFlush":false,"labelOverlap":false,"title":"physical position, in Mb","titleFontSize":35,"titleX":709,"titleY":138,"titleBaseline":"alphabetic","titleAlign":"center","titleAnchor":"start"}},
"y":{"field":"r2","type":"quantitative","scale":{"domain":[-0.04,1.04],"nice":false,"zero":false},
"axis":{"orient":"left","values":[0,0.2,0.4,0.6,0.8,1],"format":".1f","tickSize":21,"tickWidth":2,"domainWidth":2,"labelAngle":-90,"labelAlign":"center","labelBaseline":"bottom","labelPadding":22,"labelFontSize":30,"labelFlush":false,"labelOverlap":false,"title":"r²","titleFontSize":35,"titleAngle":-90,"titleX":-135,"titleY":373,"titleBaseline":"alphabetic","titleAlign":"center","titleAnchor":"start"}},
"color":{"field":"breed","type":"nominal","scale":{"domain":["Duroc","Landrace","Yorkshire"],"range":["#FF0000","#0000FF","#00FF00"]},
"legend":{"orient":"none","legendX":45.1,"legendY":17.2,"title":null,"symbolType":"M-2,0H2","symbolSize":1089,"symbolStrokeWidth":2,"labelFontSize":35,"labelColor":"black","labelOffset":46.5,"rowPadding":1,"padding":0,"labelLimit":0}}
}
},
{
"data":{"name":"ell"},
"mark":{"type":"line","interpolate":"cardinal-closed","stroke":"black","strokeWidth":3.5,"clip":false},
"encoding":{
"x":{"field":"pos","type":"quantitative","axis":{"orient":"top","labels":false,"ticks":false,"title":null,"domain":true,"domainWidth":2}},
"y":{"field":"r2","type":"quantitative"},
"detail":{"field":"id","type":"nominal"},
"order":{"field":"i","type":"quantitative"}
}
}
],
"resolve":{"axis":{"x":"independent","y":"shared"}}
}
